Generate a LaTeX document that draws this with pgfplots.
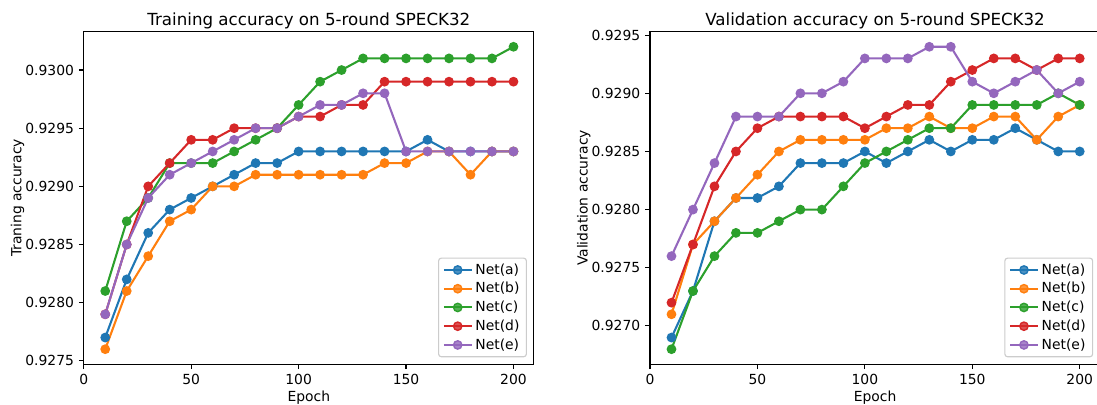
\documentclass[border=0pt]{standalone}
\usepackage{pgfplots}
\usepackage{pgfplotstable}
\pgfplotsset{compat=1.18}
\usepackage{fontspec}
\setmainfont{DejaVu Sans}

\definecolor{c0}{HTML}{1F77B4}
\definecolor{c1}{HTML}{FF7F0E}
\definecolor{c2}{HTML}{2CA02C}
\definecolor{c3}{HTML}{D62728}
\definecolor{c4}{HTML}{9467BD}

\pgfplotstableread{
epoch a b c d e
10 0.9277 0.9276 0.9281 0.9279 0.9279
20 0.9282 0.9281 0.9287 0.9285 0.9285
30 0.9286 0.9284 0.9289 0.9290 0.9289
40 0.9288 0.9287 0.9292 0.9292 0.9291
50 0.9289 0.9288 0.9292 0.9294 0.9292
60 0.9290 0.9290 0.9292 0.9294 0.9293
70 0.9291 0.9290 0.9293 0.9295 0.9294
80 0.9292 0.9291 0.9294 0.9295 0.9295
90 0.9292 0.9291 0.9295 0.9295 0.9295
100 0.9293 0.9291 0.9297 0.9296 0.9296
110 0.9293 0.9291 0.9299 0.9296 0.9297
120 0.9293 0.9291 0.9300 0.9297 0.9297
130 0.9293 0.9291 0.9301 0.9297 0.9298
140 0.9293 0.9292 0.9301 0.9299 0.9298
150 0.9293 0.9292 0.9301 0.9299 0.9293
160 0.9294 0.9293 0.9301 0.9299 0.9293
170 0.9293 0.9293 0.9301 0.9299 0.9293
180 0.9293 0.9291 0.9301 0.9299 0.9293
190 0.9293 0.9293 0.9301 0.9299 0.9293
200 0.9293 0.9293 0.9302 0.9299 0.9293
}\train

\pgfplotstableread{
epoch a b c d e
10 0.9269 0.9271 0.9268 0.9272 0.9276
20 0.9273 0.9277 0.9273 0.9277 0.9280
30 0.9279 0.9279 0.9276 0.9282 0.9284
40 0.9281 0.9281 0.9278 0.9285 0.9288
50 0.9281 0.9283 0.9278 0.9287 0.9288
60 0.9282 0.9285 0.9279 0.9288 0.9288
70 0.9284 0.9286 0.9280 0.9288 0.9290
80 0.9284 0.9286 0.9280 0.9288 0.9290
90 0.9284 0.9286 0.9282 0.9288 0.9291
100 0.9285 0.9286 0.9284 0.9287 0.9293
110 0.9284 0.9287 0.9285 0.9288 0.9293
120 0.9285 0.9287 0.9286 0.9289 0.9293
130 0.9286 0.9288 0.9287 0.9289 0.9294
140 0.9285 0.9287 0.9287 0.9291 0.9294
150 0.9286 0.9287 0.9289 0.9292 0.9291
160 0.9286 0.9288 0.9289 0.9293 0.9290
170 0.9287 0.9288 0.9289 0.9293 0.9291
180 0.9286 0.9286 0.9289 0.9292 0.9292
190 0.9285 0.9288 0.9290 0.9293 0.9290
200 0.9285 0.9289 0.9289 0.9293 0.9291
}\valid

\pgfplotsset{
  mpl/.style={
    scale only axis,
    width=324.1pt, height=239.5pt,
    xmin=0, xmax=209.5,
    xtick={0,50,100,150,200},
    xtick pos=bottom, ytick pos=left,
    tick align=outside,
    major tick length=3.5pt,
    every tick/.style={black, line width=0.8pt},
    axis line style={black, line width=0.8pt},
    ticklabel style={font=\fontsize{10}{12}\selectfont},
    label style={font=\fontsize{10}{12}\selectfont},
    title style={font=\fontsize{12}{14}\selectfont, yshift=-7.5pt},
    xlabel={Epoch},
    xlabel shift=-2pt,
    ylabel shift=-6pt,
    /pgf/number format/assume math mode=true,
    scaled y ticks=false,
    yticklabel style={/pgf/number format/.cd, fixed, fixed zerofill, precision=4},
    xticklabel style={/pgf/number format/.cd, fixed},
    legend style={
      at={(1,0)}, anchor=south east, xshift=-5pt, yshift=5pt,
      draw=black!20, line width=0.8pt, rounded corners=2pt,
      fill=white, fill opacity=0.8, text opacity=1,
      font=\fontsize{10}{12}\selectfont,
      row sep=0.4pt, inner xsep=3pt, inner ysep=2pt,
    },
    legend cell align=left,
    legend image code/.code={
      \draw[##1] (0pt,0pt) -- (20pt,0pt);
      \draw[##1, only marks] plot coordinates {(10pt,0pt)};
    },
    every axis plot/.append style={line width=1.5pt, mark=*, mark size=3pt, mark options={line width=1pt}},
  }
}

\begin{document}
\begin{tikzpicture}
\useasboundingbox (0,0) rectangle (789.84pt,291.6pt);
\begin{axis}[mpl,
  at={(60.3pt,29.3pt)}, anchor=south west,
  ymin=0.92747, ymax=0.93033,
  ytick={0.9275,0.928,0.9285,0.929,0.9295,0.93},
  title={Training accuracy on 5-round SPECK32},
  ylabel={Traning accuracy},
]
\addplot[color=c0] table[x=epoch,y=a] {\train}; \addlegendentry{Net(a)}
\addplot[color=c1] table[x=epoch,y=b] {\train}; \addlegendentry{Net(b)}
\addplot[color=c2] table[x=epoch,y=c] {\train}; \addlegendentry{Net(c)}
\addplot[color=c3] table[x=epoch,y=d] {\train}; \addlegendentry{Net(d)}
\addplot[color=c4] table[x=epoch,y=e] {\train}; \addlegendentry{Net(e)}
\end{axis}
\begin{axis}[mpl,
  at={(468.0pt,29.3pt)}, anchor=south west,
  ymin=0.92667, ymax=0.92953,
  ytick={0.927,0.9275,0.928,0.9285,0.929,0.9295},
  title={Validation accuracy on 5-round SPECK32},
  ylabel={Validation accuracy},
]
\addplot[color=c0] table[x=epoch,y=a] {\valid}; \addlegendentry{Net(a)}
\addplot[color=c1] table[x=epoch,y=b] {\valid}; \addlegendentry{Net(b)}
\addplot[color=c2] table[x=epoch,y=c] {\valid}; \addlegendentry{Net(c)}
\addplot[color=c3] table[x=epoch,y=d] {\valid}; \addlegendentry{Net(d)}
\addplot[color=c4] table[x=epoch,y=e] {\valid}; \addlegendentry{Net(e)}
\end{axis}
\end{tikzpicture}
\end{document}
